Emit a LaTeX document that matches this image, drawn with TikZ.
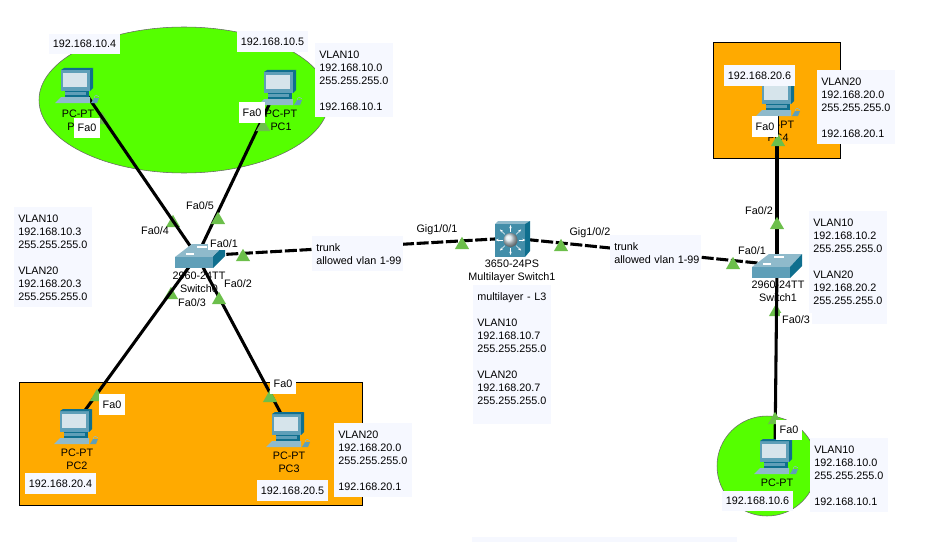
\documentclass[tikz,border=0pt]{standalone}
\usepackage{fontspec}
\setmainfont{Liberation Sans}
\usepackage{xcolor}
\usepackage{tikz}
\usetikzlibrary{arrows.meta,shapes.geometric}
\definecolor{vgreen}{HTML}{55FF00}
\definecolor{vorange}{HTML}{FFAA00}
\definecolor{portc}{HTML}{6CBF4B}
\definecolor{infobg}{HTML}{F6F8FF}
\definecolor{iconmid}{HTML}{5F9FB8}
\definecolor{icondark}{HTML}{0F6F8E}
\definecolor{iconlight}{HTML}{8FBACB}
\definecolor{screenc}{HTML}{D6E4EB}
\tikzset{
  lbl/.style={font=\fontsize{8.1}{9.75}\selectfont,inner sep=0pt},
  ipbox/.style={lbl,fill=infobg,minimum width=53.2pt,minimum height=15.4pt},
  infobox/.style={lbl,fill=infobg,align=left,anchor=north west,text width=52.5pt,inner xsep=3pt,inner ysep=2pt,
    execute at begin node=\rule{0pt}{9.5pt},execute at end node=\rule[-2.5pt]{0pt}{0pt}},
  fabox/.style={lbl,fill=white,minimum width=19.5pt,minimum height=15.5pt},
  portbox/.style={lbl,fill=white,inner xsep=2pt,inner ysep=2pt},
  devcap/.style={lbl,align=center},
  link/.style={line width=2.3pt,black},
  trunk/.style={link,dash pattern=on 9pt off 2pt},
  port/.style={regular polygon,regular polygon sides=3,fill=portc,inner sep=0pt,minimum size=12.3pt}
}
\newcommand{\pcicon}[1]{%
  \begin{scope}[shift={(#1)}]
  \fill[iconlight] (-6,35) -- (0,29) -- (29,29) -- (29,35) -- cycle;
  \fill[icondark] (4,23) rectangle (28,29);
  \fill[iconmid] (4,24) rectangle (25,27);
  \fill[icondark] (29,2) -- (32,0) -- (32,20) -- (29,23) -- cycle;
  \fill[iconmid] (0,2) rectangle (29,23);
  \fill[icondark] (0,2) -- (29,2) -- (32,0) -- (3,0) -- cycle;
  \fill[screenc] (2,5) rectangle (26,19);
  \fill[iconmid] (30,35) -- (33,30) -- (38,30) -- (36,35) -- cycle;
  \draw[iconlight] (33,30) .. controls (34,26) and (37,27) .. (38,29);
  \end{scope}
}
\newcommand{\swicon}[1]{%
  \begin{scope}[shift={(#1)}]
  \fill[iconlight] (0,0) -- (17,-13) -- (50,-13) -- (38,0) -- cycle;
  \fill[iconmid] (0,0) rectangle (38,11);
  \fill[icondark] (38,0) -- (50,-13) -- (50,-1) -- (38,11) -- cycle;
  \draw[white,thick] (11,-3) -- (19,-3) (22,-10) -- (32,-10);
  \end{scope}
}
\begin{document}
\begin{tikzpicture}[x=0.75pt,y=-0.75pt]
\useasboundingbox (0,0) rectangle (927,542);
\fill[infobg] (472,537) rectangle (737,542);
\draw[fill=vgreen,draw=black!60] (184,100) ellipse (145 and 73);
\draw[fill=vgreen,draw=black!60] (767,466) circle (50);
\draw[fill=vorange,draw=black] (713,42) rectangle (840,158);
\draw[fill=vorange,draw=black] (19,382) rectangle (362,505);
\coordinate (pc0) at (80,85);
\coordinate (pc1) at (277,88);
\coordinate (pc2) at (78,420);
\coordinate (pc3) at (286,423);
\coordinate (pc4) at (777,100);
\coordinate (pc5) at (775,450);
\coordinate (sw0) at (197,256);
\coordinate (sw1) at (777,265);
\coordinate (mls) at (512,238);
\foreach \x/\y/\n in {102/120/a,173/223/b,171/295/c,776/312/d}
  \node[port] (p\n) at (\x,\y) {};
\draw[link] (pc0) -- (sw0);
\draw[link] (pc1) -- (sw0);
\draw[link] (pc2) -- (sw0);
\draw[link] (pc3) -- (sw0);
\draw[link] (pc4) -- (sw1);
\draw[link] (pc5) -- (sw1);
\draw[trunk] (sw0) -- (mls);
\draw[trunk] (mls) -- (sw1);
\pcicon{61,68}
\pcicon{264,70}
\pcicon{60,409}
\pcicon{272,412}
\pcicon{762,81}
\pcicon{760,439}
\swicon{175,257}
\swicon{752,267}
\fill[iconlight] (495,224) -- (498,221) -- (530,221) -- (525,224) -- cycle;
\fill[icondark] (525,224) -- (530,221) -- (530,251) -- (525,257) -- cycle;
\fill[iconmid!65!icondark] (495,224) rectangle (525,257);
\foreach \a in {0,45,...,315}
  \draw[white,-{Stealth[length=2.5pt]}] (510.5,240) ++(\a:8) -- ++(\a:7);
\shade[ball color=screenc] (510.5,240) circle (7);
\node[devcap] (pc0cap) at (78,120) {PC-PT\\PC0};
\node[devcap] (pc1cap) at (281,120) {PC-PT\\PC1};
\node[devcap] (pc2cap) at (77,459) {PC-PT\\PC2};
\node[devcap] (pc3cap) at (289,462) {PC-PT\\PC3};
\node[devcap] (pc4cap) at (778,131) {PC-PT\\PC4};
\node[devcap] (pc5cap) at (777,483) {PC-PT};
\node[devcap] (sw0cap) at (199,282) {2960-24TT\\Switch0};
\node[devcap] (sw1cap) at (778,291) {2960-24TT\\Switch1};
\node[devcap] (mlscap) at (512,271) {3650-24PS\\Multilayer Switch1};
\foreach \x/\y/\n in {263/127/e,218/220/f,243/257/g,219/300/h,97/397/i,270/398/j,462/245/k,561/247/l,733/265/m,777/225/n,778/142/o,775/420/q}
  \node[port] (p\n) at (\x,\y) {};
\node[ipbox] (ip4) at (84.5,44) {192.168.10.4};
\node[ipbox] (ip5) at (272.5,41.5) {192.168.10.5};
\node[ipbox] (ip6) at (759.5,75.5) {192.168.20.6};
\node[ipbox] (ip7) at (757.5,501) {192.168.10.6};
\node[ipbox] (ip8) at (60.5,483.5) {192.168.20.4};
\node[ipbox] (ip9) at (292.5,490.5) {192.168.20.5};
\node[infobox] (net1) at (315,43) {VLAN10\\192.168.10.0\\255.255.255.0\\[9.75pt]192.168.10.1};
\node[infobox] (net2) at (817,70) {VLAN20\\192.168.20.0\\255.255.255.0\\[9.75pt]192.168.20.1};
\node[infobox] (net3) at (334,423) {VLAN20\\192.168.20.0\\255.255.255.0\\[9.75pt]192.168.20.1};
\node[infobox] (net4) at (810,438) {VLAN10\\192.168.10.0\\255.255.255.0\\[9.75pt]192.168.10.1};
\node[infobox] (sw0ip) at (14,207) {VLAN10\\192.168.10.3\\255.255.255.0\\[9.75pt]VLAN20\\192.168.20.3\\255.255.255.0};
\node[infobox] (sw1ip) at (809,211) {VLAN10\\192.168.10.2\\255.255.255.0\\[9.75pt]VLAN20\\192.168.20.2\\255.255.255.0\\\mbox{}};
\node[infobox] (mlsip) at (473,285) {multilayer - L3\\[9.75pt]VLAN10\\192.168.10.7\\255.255.255.0\\[9.75pt]VLAN20\\192.168.20.7\\255.255.255.0\\\mbox{}};
\node[infobox,text width=62.2pt] (tr0) at (312,236) {trunk\\\mbox{allowed vlan 1-99}};
\node[infobox,text width=62.2pt] (tr1) at (610,235) {trunk\\\mbox{allowed vlan 1-99}};
\node[fabox] (f0) at (87,128) {Fa0};
\node[fabox] (f1) at (252,112.5) {Fa0};
\node[fabox] (f2) at (112,404.5) {Fa0};
\node[fabox] (f3) at (283,384) {Fa0};
\node[fabox] (f4) at (765,126.5) {Fa0};
\node[fabox] (f5) at (789,430) {Fa0};
\node[lbl] (g0) at (155,231) {Fa0/4};
\node[lbl] (g1) at (200,206) {Fa0/5};
\node[portbox] (g2) at (224,243.5) {Fa0/1};
\node[lbl] (g3) at (238,284) {Fa0/2};
\node[lbl] (g4) at (192,303) {Fa0/3};
\node[lbl] (g5) at (759,211) {Fa0/2};
\node[lbl] (g6) at (752,251) {Fa0/1};
\node[portbox] (g7) at (796,320) {Fa0/3};
\node[lbl] (g8) at (437,230) {Gig1/0/1};
\node[lbl] (g9) at (590,233) {Gig1/0/2};
\end{tikzpicture}
\end{document}
